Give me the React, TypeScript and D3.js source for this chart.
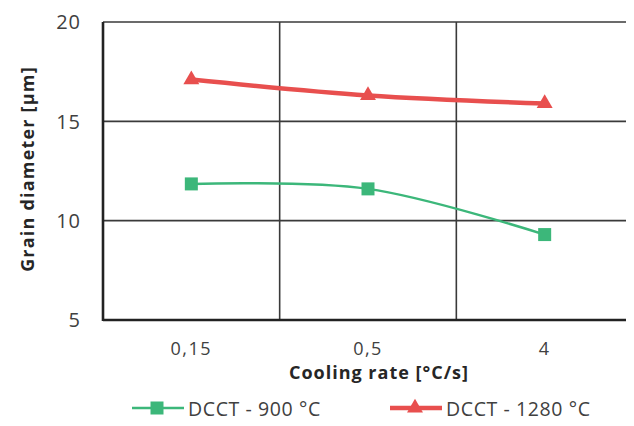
import { useEffect, useRef } from "react";
import * as d3 from "d3";

const categories = ["0,15", "0,5", "4"];
const series900 = [11.85, 11.6, 9.3];
const series1280 = [17.1, 16.3, 15.9];
const yTicks = [5, 10, 15, 20];

const seriesList = [
    { name: "DCCT - 900 °C", values: series900, color: "#3cb77a", marker: "square" },
    { name: "DCCT - 1280 °C", values: series1280, color: "#e84f4e", marker: "triangle" },
];

export default function App() {
    const svgRef = useRef<SVGSVGElement>(null);

    useEffect(() => {
        if (!svgRef.current) return;
        const width = 634;
        const height = 426;
        const margin = { top: 22, right: 1, bottom: 106, left: 103 };
        const innerWidth = width - margin.left - margin.right;
        const innerHeight = height - margin.top - margin.bottom;
        const font = "'Open Sans', sans-serif";

        const svg = d3.select(svgRef.current);
        svg.selectAll("*").remove();
        svg.attr("width", width).attr("height", height);

        const g = svg
            .append("g")
            .attr("transform", `translate(${margin.left},${margin.top})`);

        const x = d3
            .scaleBand()
            .domain(categories)
            .range([0, innerWidth])
            .paddingInner(0)
            .paddingOuter(0);
        const y = d3.scaleLinear().domain([5, 20]).range([innerHeight, 0]);

        // horizontal gridlines
        g.selectAll(".hgrid")
            .data(yTicks)
            .enter()
            .append("line")
            .attr("x1", 0)
            .attr("x2", innerWidth)
            .attr("y1", (d) => y(d))
            .attr("y2", (d) => y(d))
            .attr("stroke", "#3a3a3a")
            .attr("stroke-width", 1.6);

        // vertical gridlines between categories
        g.selectAll(".vgrid")
            .data(categories.slice(1))
            .enter()
            .append("line")
            .attr("x1", (d) => x(d)!)
            .attr("x2", (d) => x(d)!)
            .attr("y1", 0)
            .attr("y2", innerHeight)
            .attr("stroke", "#3a3a3a")
            .attr("stroke-width", 1.6);

        // axes lines
        g.append("line")
            .attr("x1", 0)
            .attr("x2", 0)
            .attr("y1", 0)
            .attr("y2", innerHeight + 1)
            .attr("stroke", "#222")
            .attr("stroke-width", 2.6);
        g.append("line")
            .attr("x1", 0)
            .attr("x2", innerWidth)
            .attr("y1", innerHeight)
            .attr("y2", innerHeight)
            .attr("stroke", "#222")
            .attr("stroke-width", 2.6);

        // y tick labels
        g.selectAll(".ylab")
            .data(yTicks)
            .enter()
            .append("text")
            .attr("x", -22)
            .attr("y", (d) => y(d))
            .attr("dy", "0.36em")
            .attr("text-anchor", "end")
            .attr("font-family", font)
            .attr("font-size", "20px")
            .attr("letter-spacing", "1px")
            .attr("fill", "#404040")
            .text((d) => d);

        // x tick labels
        g.selectAll(".xlab")
            .data(categories)
            .enter()
            .append("text")
            .attr("x", (d) => x(d)! + x.bandwidth() / 2)
            .attr("y", innerHeight + 35)
            .attr("text-anchor", "middle")
            .attr("font-family", font)
            .attr("font-size", "18px")
            .attr("letter-spacing", "1.5px")
            .attr("fill", "#404040")
            .text((d) => d);

        // axis titles
        svg.append("text")
            .attr("x", 379)
            .attr("y", 379)
            .attr("text-anchor", "middle")
            .attr("font-family", font)
            .attr("font-size", "18px")
            .attr("font-weight", "bold")
            .attr("letter-spacing", "1px")
            .attr("fill", "#262626")
            .text("Cooling rate [°C/s]");

        svg.append("text")
            .attr("transform", "translate(34,169) rotate(-90)")
            .attr("text-anchor", "middle")
            .attr("font-family", font)
            .attr("font-size", "18px")
            .attr("font-weight", "bold")
            .attr("letter-spacing", "1.2px")
            .attr("fill", "#262626")
            .text("Grain diameter [μm]");

        const line = d3
            .line<number>()
            .x((_, i) => x(categories[i])! + x.bandwidth() / 2)
            .y((d) => y(d))
            .curve(d3.curveCatmullRom.alpha(0.5));

        const drawMarker = (
            sel: d3.Selection<SVGGElement, unknown, null, undefined>,
            cx: number,
            cy: number,
            kind: string,
            color: string,
        ) => {
            if (kind === "square") {
                sel.append("rect")
                    .attr("x", cx - 6.5)
                    .attr("y", cy - 6.5)
                    .attr("width", 13)
                    .attr("height", 13)
                    .attr("fill", color);
            } else {
                sel.append("path")
                    .attr("d", d3.symbol(d3.symbolTriangle, 110)())
                    .attr("transform", `translate(${cx},${cy})`)
                    .attr("fill", color);
            }
        };

        seriesList.forEach((s) => {
            g.append("path")
                .datum(s.values)
                .attr("d", line)
                .attr("fill", "none")
                .attr("stroke", s.color)
                .attr("stroke-width", s.marker === "triangle" ? 4.5 : 2.5);
            const mg = g.append("g") as d3.Selection<SVGGElement, unknown, null, undefined>;
            s.values.forEach((v, i) => {
                drawMarker(mg, x(categories[i])! + x.bandwidth() / 2, y(v), s.marker, s.color);
            });
        });

        // legend
        const legendItems = [
            { ...seriesList[0], x0: 132 },
            { ...seriesList[1], x0: 390 },
        ];
        legendItems.forEach((s) => {
            const lg = svg.append("g") as d3.Selection<SVGGElement, unknown, null, undefined>;
            lg.append("line")
                .attr("x1", s.x0)
                .attr("x2", s.x0 + 52)
                .attr("y1", 408)
                .attr("y2", 408)
                .attr("stroke", s.color)
                .attr("stroke-width", s.marker === "triangle" ? 4.5 : 2.5);
            drawMarker(lg, s.x0 + 25, 408, s.marker, s.color);
            lg.append("text")
                .attr("x", s.x0 + 56)
                .attr("y", 416)
                .attr("font-family", font)
                .attr("font-size", "19.5px")
                .attr("letter-spacing", "0.6px")
                .attr("fill", "#404040")
                .text(s.name);
        });
    }, []);

    return (
        <div style={{ margin: -8, width: 634, height: 426, background: "#fff" }}>
            <svg ref={svgRef} style={{ display: "block" }}></svg>
        </div>
    );
}
